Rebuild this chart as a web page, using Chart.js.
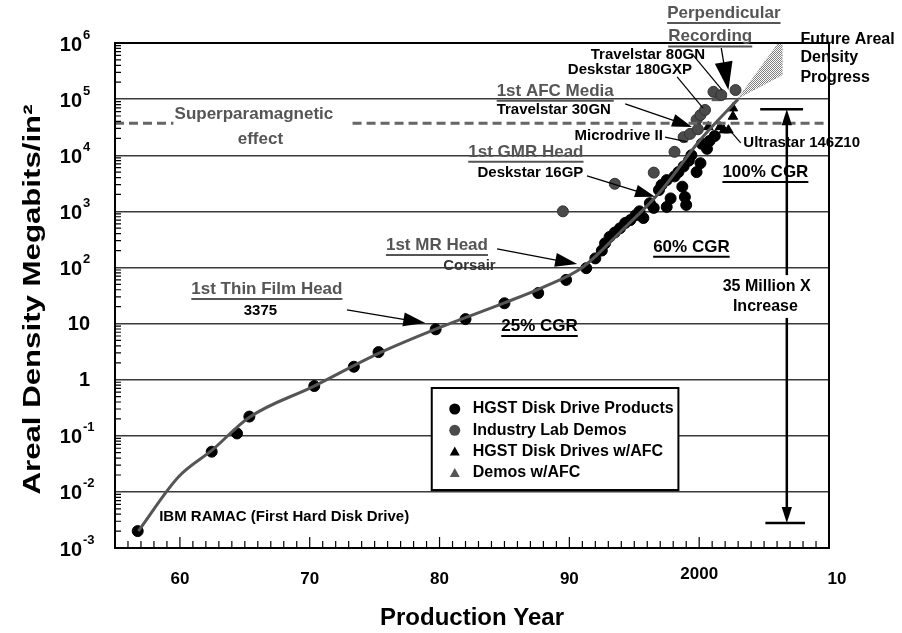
<!DOCTYPE html>
<html lang="en">
<head>
<meta charset="UTF-8">
<title>Areal Density Progress</title>
<script src="https://cdn.jsdelivr.net/npm/chart.js"></script>
<style>
  html, body { margin: 0; padding: 0; background: #fff; }
</style>
</head>
<body>
<canvas id="densityChart" width="902" height="633"></canvas>
<script>
// axis ticks
const xTicks = [1960, 1970, 1980, 1990, 2000, 2010];
const xTickLabels = ['60', '70', '80', '90', '2000', '10'];
const yTicks = [1e-3, 1e-2, 1e-1, 1, 10, 1e2, 1e3, 1e4, 1e5, 1e6];
const yTickBase = ['10', '10', '10', '1', '10', '10', '10', '10', '10', '10'];
const yTickExp = ['-3', '-2', '-1', '', '', '2', '3', '4', '5', '6'];

// trend curve
const trendYears = [1956.8, 1959.9, 1962.5, 1965.3, 1970.3, 1975.3, 1980, 1985, 1988, 1991, 1994, 1997, 2000, 2003];
const trendValues = [0.002, 0.0186, 0.056, 0.21, 0.76, 2.95, 8.5, 23.4, 44.7, 100, 447, 2240, 17800, 100000];

// HGST disk drive products
const hgstYears = [1956.75, 1962.45, 1964.4, 1965.35, 1970.35, 1973.4, 1975.3, 1979.7, 1982.0, 1985.0, 1987.6, 1989.75,
  1991.3, 1992.0, 1992.5, 1992.75, 1993.1, 1993.5, 1993.9, 1994.3, 1994.7, 1995.1, 1995.4, 1995.7, 1996.2, 1996.5,
  1996.9, 1997.1, 1997.5, 1997.5, 1997.8, 1998.1, 1998.4, 1998.7, 1998.8, 1998.9, 1999.0, 1999.2, 1999.4, 1999.8,
  2000.1, 2000.2, 2000.6, 2000.8, 2001.2];
const hgstValues = [0.002, 0.052, 0.11, 0.22, 0.77, 1.7, 3.1, 7.9, 12, 23, 35, 60,
  97, 145, 200, 270, 350, 420, 500, 620, 700, 850, 1000, 760, 1400, 1150,
  2400, 2950, 3600, 1200, 1700, 4200, 5000, 2750, 6300, 1800, 1300, 8000, 10000, 5000,
  7200, 16000, 13000, 18000, 22000];

// industry lab demos
const labYears = [1989.5, 1993.5, 1996.5, 1998.1, 1998.8, 1999.3, 1999.8, 1999.9, 2000.1, 2000.45, 2001.1, 2001.7, 2002.8];
const labValues = [1000, 3100, 4900, 11500, 21000, 24000, 43000, 29000, 52000, 64000, 135000, 118000, 145000];

// HGST disk drives with AFC
const afcYears = [2000.7, 2001.6, 2001.9, 2002.25, 2002.6, 2002.6];
const afcValues = [32000, 32000, 28000, 28000, 49000, 69000];

// demos with AFC
const afcDemoYears = [2001.35, 2001.75];
const afcDemoValues = [105000, 112000];

// future progress wedge
const futureYears = [2003.0, 2006.1, 2006.4, 2006.4, 2003.0];
const futureValues = [104000, 1000000, 1000000, 270000, 104000];

// superparamagnetic limit (gap for the text)
const limitYears = [1955, 1959.5, 1966, 1973.3, 2010];
const limitValues = [37000, 37000, null, 37000, 37000];

const GRAY = '#555';
const FONT = '"Liberation Sans", Arial, Helvetica, sans-serif';

// text annotations, placed in data units
const notes = [
  { text: 'Perpendicular', year: 2001.9, value: 3.4e6, color: GRAY, size: 17, underline: true },
  { text: 'Recording', year: 2000.85, value: 1.3e6, color: GRAY, size: 17, underline: true },
  { text: 'Future Areal', year: 2007.8, value: 1.13e6, size: 16, align: 'left' },
  { text: 'Density', year: 2007.8, value: 5.4e5, size: 16, align: 'left' },
  { text: 'Progress', year: 2007.8, value: 2.4e5, size: 16, align: 'left' },
  { text: 'Travelstar 80GN', year: 2000.45, value: 6.2e5, size: 15, align: 'right' },
  { text: 'Deskstar 180GXP', year: 1999.45, value: 3.3e5, size: 15, align: 'right' },
  { text: '1st AFC Media', year: 1984.4, value: 1.4e5, color: GRAY, size: 17, align: 'left', underline: true },
  { text: 'Travelstar 30GN', year: 1984.4, value: 6.4e4, size: 15, align: 'left' },
  { text: 'Superparamagnetic', year: 1965.7, value: 5.45e4, color: GRAY, size: 17 },
  { text: 'effect', year: 1966.2, value: 1.95e4, color: GRAY, size: 17 },
  { text: 'Microdrive II', year: 1997.2, value: 2.2e4, size: 15, align: 'right' },
  { text: 'Ultrastar 146Z10', year: 2003.4, value: 1.66e4, size: 15, align: 'left' },
  { text: '1st GMR Head', year: 1986.65, value: 1.15e4, color: GRAY, size: 17, underline: true },
  { text: 'Deskstar 16GP', year: 1987.0, value: 4840, size: 15 },
  { text: '100% CGR', year: 2005.1, value: 5000, size: 17, underline: true },
  { text: '60% CGR', year: 1999.4, value: 232, size: 17, underline: true },
  { text: '1st MR Head', year: 1979.8, value: 250, color: GRAY, size: 17, underline: true },
  { text: 'Corsair', year: 1982.3, value: 107, color: '#333', size: 15 },
  { text: '35 Million X', year: 2005.2, value: 45, size: 16 },
  { text: 'Increase', year: 2005.1, value: 19.8, size: 16 },
  { text: '1st Thin Film Head', year: 1966.7, value: 41, color: GRAY, size: 17, underline: true },
  { text: '3375', year: 1966.2, value: 16.8, size: 15 },
  { text: '25% CGR', year: 1987.7, value: 9, size: 17, underline: true },
  { text: 'IBM RAMAC (First Hard Disk Drive)', year: 1958.4, value: 0.00357, size: 15, align: 'left' }
];

// arrows and leader lines [year, value]
const arrows = [
  { from: [1972.87, 17.5], to: [1978.9, 10.2], head: 22, width: 1.3 },
  { from: [1984.43, 214], to: [1990.6, 115], head: 22, width: 1.3 },
  { from: [1991.36, 4270], to: [1996.6, 1810], head: 20, width: 1.3 },
  { from: [1994.3, 8.2e4], to: [1999.45, 3.2e4], head: 20, width: 1.3 },
  { from: [2001.7, 8.1e5], to: [2002.25, 1.46e5], head: 28, width: 1.3 },
  { from: [1999.5, 6.2e5], to: [2001.76, 1.46e5], head: 0, width: 1.2 },
  { from: [1998.3, 2.5e5], to: [2000.3, 6.9e4], head: 0, width: 1.2 },
  { from: [1997.37, 2.1e4], to: [1999.1, 1.73e4], head: 0, width: 1.2 },
  { from: [2003.2, 1.66e4], to: [2002.2, 3.07e4], head: 0, width: 1.2 },
  { from: [2006.75, 73], to: [2006.75, 6.6e4], head: 16, width: 2.5 },
  { from: [2006.75, 12.6], to: [2006.75, 2.8e-3], head: 16, width: 2.5 },
  { from: [2004.7, 6.6e4], to: [2008.0, 6.6e4], head: 0, width: 2.5 },
  { from: [2005.1, 2.8e-3], to: [2008.15, 2.8e-3], head: 0, width: 2.5 }
];

// legend box corners [year, value]
const legendBox = { from: [1979.4, 0.71], to: [1998.4, 0.0108] };

function zip(xs, ys) {
  return xs.map((x, i) => ({ x: x, y: ys[i] }));
}

// stipple for the future wedge
const dots = document.createElement('canvas');
dots.width = 2; dots.height = 2;
const dctx = dots.getContext('2d');
dctx.fillStyle = '#808080';
dctx.fillRect(0, 0, 1, 1);
dctx.fillRect(1, 1, 1, 1);
const stipple = dctx.createPattern(dots, 'repeat');

function toPx(chart, p) {
  return [chart.scales.x.getPixelForValue(p[0]), chart.scales.y.getPixelForValue(p[1])];
}

function drawText(ctx, n, x, y) {
  ctx.font = 'bold ' + n.size + 'px ' + FONT;
  ctx.fillStyle = n.color || '#000';
  ctx.textAlign = n.align || 'center';
  ctx.textBaseline = 'middle';
  ctx.fillText(n.text, x, y);
  if (n.underline) {
    const w = ctx.measureText(n.text).width;
    let x0 = x;
    if (ctx.textAlign === 'center') x0 = x - w / 2;
    if (ctx.textAlign === 'right') x0 = x - w;
    ctx.strokeStyle = n.color || '#000';
    ctx.lineWidth = 2;
    ctx.beginPath();
    ctx.moveTo(x0, y + n.size * 0.58);
    ctx.lineTo(x0 + w, y + n.size * 0.58);
    ctx.stroke();
  }
}

function drawArrow(ctx, a, p0, p1) {
  ctx.strokeStyle = '#000';
  ctx.fillStyle = '#000';
  ctx.lineWidth = a.width;
  const ang = Math.atan2(p1[1] - p0[1], p1[0] - p0[0]);
  const end = a.head ? [p1[0] - Math.cos(ang) * a.head * 0.8, p1[1] - Math.sin(ang) * a.head * 0.8] : p1;
  ctx.beginPath();
  ctx.moveTo(p0[0], p0[1]);
  ctx.lineTo(end[0], end[1]);
  ctx.stroke();
  if (a.head) {
    const hw = a.head * 0.32;
    const bx = p1[0] - Math.cos(ang) * a.head, by = p1[1] - Math.sin(ang) * a.head;
    ctx.beginPath();
    ctx.moveTo(p1[0], p1[1]);
    ctx.lineTo(bx + Math.sin(ang) * hw, by - Math.cos(ang) * hw);
    ctx.lineTo(bx - Math.sin(ang) * hw, by + Math.cos(ang) * hw);
    ctx.closePath();
    ctx.fill();
  }
}

const decorations = {
  id: 'decorations',
  afterDatasetsDraw(chart) {
    const ctx = chart.ctx;
    const area = chart.chartArea;
    const xs = chart.scales.x, ys = chart.scales.y;
    ctx.save();

    // frame
    ctx.strokeStyle = '#000';
    ctx.lineWidth = 2;
    ctx.strokeRect(area.left, area.top, area.right - area.left, area.bottom - area.top);

    // inner ticks on the bottom axis (every year)
    ctx.lineWidth = 1.2;
    ctx.beginPath();
    for (let yr = 1956; yr < 2010; yr++) {
      const x = xs.getPixelForValue(yr);
      const len = yr % 10 === 0 ? 11 : 7;
      ctx.moveTo(x, area.bottom);
      ctx.lineTo(x, area.bottom - len);
    }
    // inner minor ticks on the left axis
    for (let e = -3; e < 6; e++) {
      for (let k = 2; k < 10; k++) {
        const y = ys.getPixelForValue(k * Math.pow(10, e));
        ctx.moveTo(area.left, y);
        ctx.lineTo(area.left + 6, y);
      }
    }
    ctx.stroke();

    // tick labels
    ctx.fillStyle = '#000';
    ctx.textBaseline = 'middle';
    xTicks.forEach((v, i) => {
      const x = xs.getPixelForValue(v) + (i === xTicks.length - 1 ? 8 : 0);
      ctx.font = 'bold 17px ' + FONT;
      ctx.textAlign = 'center';
      ctx.fillText(xTickLabels[i], x, area.bottom + (xTickLabels[i] === '2000' ? 26 : 31));
    });
    yTicks.forEach((v, i) => {
      const y = ys.getPixelForValue(v);
      ctx.textAlign = 'right';
      ctx.font = 'bold 20px ' + FONT;
      if (yTickExp[i]) {
        ctx.fillText(yTickBase[i], area.left - 33, y + 2);
        ctx.font = 'bold 13px ' + FONT;
        ctx.textAlign = 'left';
        ctx.fillText(yTickExp[i], area.left - 32, y - 8);
      } else {
        ctx.fillText(yTickBase[i], area.left - 25, y + 1);
      }
    });

    // axis titles
    ctx.font = 'bold 24px ' + FONT;
    ctx.textAlign = 'center';
    ctx.fillText('Production Year', (area.left + area.right) / 2, area.bottom + 70);
    ctx.save();
    ctx.translate(33, (area.top + area.bottom) / 2 + 4);
    ctx.rotate(-Math.PI / 2);
    ctx.scale(1.3, 1);
    ctx.font = 'bold 24px ' + FONT;
    ctx.fillText('Areal Density Megabits/in\u00B2', 0, 0);
    ctx.restore();

    // annotations
    notes.forEach(n => {
      const p = toPx(chart, [n.year, n.value]);
      drawText(ctx, n, p[0], p[1]);
    });
    arrows.forEach(a => drawArrow(ctx, a, toPx(chart, a.from), toPx(chart, a.to)));

    // legend
    const b0 = toPx(chart, legendBox.from), b1 = toPx(chart, legendBox.to);
    ctx.fillStyle = '#fff';
    ctx.fillRect(b0[0], b0[1], b1[0] - b0[0], b1[1] - b0[1]);
    ctx.strokeStyle = '#000';
    ctx.lineWidth = 2;
    ctx.strokeRect(b0[0], b0[1], b1[0] - b0[0], b1[1] - b0[1]);
    const items = chart.data.datasets.filter(d => d.inLegend);
    items.forEach((d, i) => {
      const cy = b0[1] + 21 + i * 21.3;
      const cx = b0[0] + 23;
      ctx.fillStyle = d.backgroundColor;
      ctx.beginPath();
      if (d.pointStyle === 'triangle') {
        ctx.moveTo(cx, cy - 5);
        ctx.lineTo(cx + 5, cy + 4);
        ctx.lineTo(cx - 5, cy + 4);
        ctx.closePath();
      } else {
        ctx.arc(cx, cy, 5.5, 0, Math.PI * 2);
      }
      ctx.fill();
      ctx.fillStyle = '#000';
      ctx.font = 'bold 16px ' + FONT;
      ctx.textAlign = 'left';
      ctx.fillText(d.label, b0[0] + 41, cy);
    });

    ctx.restore();
  }
};

const ctx = document.getElementById('densityChart').getContext('2d');
new Chart(ctx, {
  type: 'scatter',
  data: {
    datasets: [
      {
        label: 'Trend', type: 'line', data: zip(trendYears, trendValues),
        borderColor: GRAY, borderWidth: 3, pointRadius: 0, cubicInterpolationMode: 'monotone', order: 0
      },
      {
        label: 'Superparamagnetic limit', type: 'line', data: zip(limitYears, limitValues),
        borderColor: '#666', borderWidth: 3, borderDash: [9, 5], pointRadius: 0, spanGaps: false, order: 1
      },
      {
        label: 'Future Areal Density Progress', type: 'line', data: zip(futureYears, futureValues),
        borderColor: '#999', borderWidth: 1, borderDash: [1, 2], backgroundColor: stipple,
        fill: 'shape', pointRadius: 0, tension: 0, order: 2
      },
      {
        label: 'HGST Disk Drive Products', inLegend: true, data: zip(hgstYears, hgstValues),
        backgroundColor: '#000', borderColor: '#000', pointStyle: 'circle', pointRadius: 5.5, order: 3
      },
      {
        label: 'Industry Lab Demos', inLegend: true, data: zip(labYears, labValues),
        backgroundColor: '#4a4a4a', borderColor: '#333', pointStyle: 'circle', pointRadius: 5.5, order: 3
      },
      {
        label: 'HGST Disk Drives w/AFC', inLegend: true, data: zip(afcYears, afcValues),
        backgroundColor: '#000', borderColor: '#000', pointStyle: 'triangle', pointRadius: 5.5, order: 3
      },
      {
        label: 'Demos w/AFC', inLegend: true, data: zip(afcDemoYears, afcDemoValues),
        backgroundColor: '#555', borderColor: '#555', pointStyle: 'triangle', pointRadius: 5.5, order: 3
      }
    ]
  },
  options: {
    responsive: false,
    devicePixelRatio: 1,
    animation: false,
    layout: { padding: { left: 115, right: 73, top: 43, bottom: 85 } },
    plugins: { legend: { display: false }, tooltip: { enabled: false } },
    scales: {
      x: {
        type: 'linear', min: 1955, max: 2010,
        ticks: { display: false },
        grid: { display: false, drawTicks: false },
        border: { display: false }
      },
      y: {
        type: 'logarithmic', min: 1e-3, max: 1e6,
        afterBuildTicks: s => { s.ticks = yTicks.map(v => ({ value: v })); },
        ticks: { display: false },
        grid: { color: '#3a3a3a', lineWidth: 1.4, drawTicks: false },
        border: { display: false }
      }
    }
  },
  plugins: [decorations]
});
</script>
</body>
</html>
